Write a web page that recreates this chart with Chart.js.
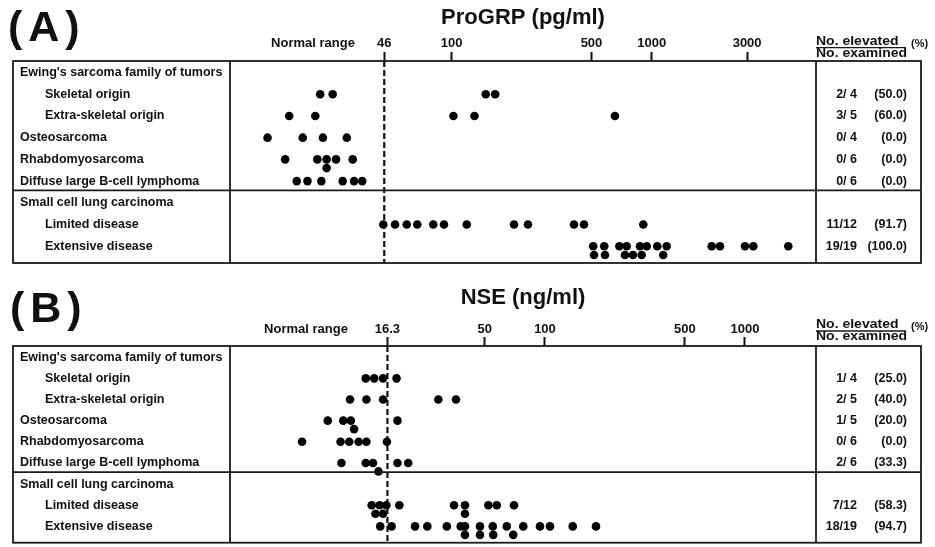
<!DOCTYPE html>
<html>
<head>
<meta charset="utf-8">
<script src="https://cdn.jsdelivr.net/npm/chart.js@4.4.1/dist/chart.umd.min.js"></script>
<style>
html,body{margin:0;padding:0;background:#fff;}
#wrap{position:relative;width:935px;height:547px;overflow:hidden;background:#fff;}
.panel{position:absolute;left:0;width:935px;}
.panel canvas{display:block;}
.plabel{position:absolute;font-family:Arial,"Liberation Sans",Helvetica,sans-serif;font-weight:bold;font-size:43px;line-height:1;letter-spacing:6px;color:#111;}
</style>
</head>
<body>
<div id="wrap">
  <div class="panel" style="top:0;height:270px"><canvas id="cA" width="935" height="270"></canvas></div>
  <div class="panel" style="top:280px;height:267px"><canvas id="cB" width="935" height="267"></canvas></div>
  <div class="plabel" style="left:8px;top:5px">(A)</div>
  <div class="plabel" style="left:10px;top:286px">(B)</div>
</div>
<script>
const FONT = 'Arial, "Liberation Sans", Helvetica, sans-serif';

// ---- Row categories ----
const rowLabels = [
  "Ewing's sarcoma family of tumors",
  "Skeletal origin",
  "Extra-skeletal origin",
  "Osteosarcoma",
  "Rhabdomyosarcoma",
  "Diffuse large B-cell lymphoma",
  "Small cell lung carcinoma",
  "Limited disease",
  "Extensive disease"
];
const rowIsSubgroup = [false, true, true, false, false, false, false, true, true];
const dataRows = [1, 2, 3, 4, 5, 7, 8];

// ---- (A) ProGRP (pg/ml) ----
const progrpTicks = [46, 100, 500, 1000, 3000];
const progrpCutoff = 46;
const progrpSkeletal = [22.0, 25.4, 148, 165];
const progrpExtraSkeletal = [15.4, 20.8, 102, 130, 655];
const progrpOsteosarcoma = [12.0, 18.0, 22.7, 29.9];
const progrpRhabdomyosarcoma = [14.7, 21.3, 23.7, 23.7, 26.4, 32.0];
const progrpDLBCL = [16.8, 19.0, 22.3, 28.5, 32.5, 35.7];
const progrpLimited = [45.5, 52.1, 59.6, 67.3, 80.9, 91.5, 118.9, 204.9, 240.7, 408.8, 458.7, 907.8];
const progrpExtensive = [510, 515, 579, 584, 689, 735, 750, 806, 874, 891, 944, 1066, 1142, 1188, 1995, 2195, 2927, 3221, 4819];
const progrpElevated = [2, 3, 0, 0, 0, 11, 19];
const progrpExamined = [4, 5, 4, 6, 6, 12, 19];
const progrpPercent = ["50.0", "60.0", "0.0", "0.0", "0.0", "91.7", "100.0"];

// ---- (B) NSE (ng/ml) ----
const nseTicks = [16.3, 50, 100, 500, 1000];
const nseCutoff = 16.3;
const nseSkeletal = [12.7, 14.0, 15.5, 18.1];
const nseExtraSkeletal = [10.6, 12.8, 15.5, 29.3, 35.9];
const nseOsteosarcoma = [8.2, 9.8, 10.7, 11.1, 18.3];
const nseRhabdomyosarcoma = [6.1, 9.5, 10.5, 11.7, 12.8, 16.2];
const nseDLBCL = [9.6, 12.7, 13.8, 14.7, 18.3, 20.7];
const nseLimited = [13.6, 14.2, 14.9, 15.5, 16.1, 18.7, 35.1, 39.8, 39.8, 52.1, 57.4, 70.0];
const nseExtensive = [15.0, 17.1, 22.4, 25.8, 32.3, 37.9, 39.8, 39.8, 47.3, 47.3, 54.8, 55.1, 64.4, 69.4, 77.9, 94.4, 105.9, 137.6, 179.9];
const nseElevated = [1, 2, 1, 0, 2, 7, 18];
const nseExamined = [4, 5, 5, 6, 6, 12, 19];
const nsePercent = ["25.0", "40.0", "20.0", "0.0", "33.3", "58.3", "94.7"];

// ---- layout constants ----
const Y_MIN = -0.53, Y_MAX = 8.77, SECTION_BREAK = 5.43;
const BOX_LEFT = 13, BOX_RIGHT = 921, PLOT_LEFT = 230, PLOT_RIGHT = 816;

// simple two-row beeswarm: overlapping dots are pushed to a second line
function swarm(values, row) {
  const levels = [[], []];
  const pts = [];
  values.slice().sort((a, b) => a - b).forEach(v => {
    const lv = Math.log10(v);
    let chosen = -1, bestD = -1, bestL = 0;
    for (let L = 0; L < levels.length; L++) {
      const d = levels[L].length ? Math.min(...levels[L].map(q => Math.abs(q - lv))) : Infinity;
      if (d >= 0.0325) { chosen = L; break; }
      if (d > bestD) { bestD = d; bestL = L; }
    }
    if (chosen < 0) chosen = bestL;
    levels[chosen].push(lv);
    pts.push({ x: v, y: row + chosen * 0.4 });
  });
  return pts;
}

function makeFrame(cfg) {
  return {
    id: 'frame',
    afterDraw(chart) {
      const { ctx, chartArea: ca } = chart;
      const y = chart.scales.y;
      ctx.save();
      ctx.strokeStyle = '#1a1a1a';
      ctx.lineWidth = 1.8;
      ctx.strokeRect(BOX_LEFT, ca.top, BOX_RIGHT - BOX_LEFT, ca.bottom - ca.top);
      const ln = (x1, y1, x2, y2) => { ctx.beginPath(); ctx.moveTo(x1, y1); ctx.lineTo(x2, y2); ctx.stroke(); };
      ln(ca.left, ca.top, ca.left, ca.bottom);
      ln(ca.right, ca.top, ca.right, ca.bottom);
      const yb = y.getPixelForValue(SECTION_BREAK);
      ln(BOX_LEFT, yb, BOX_RIGHT, yb);

      ctx.fillStyle = '#111';
      ctx.textBaseline = 'middle';
      ctx.textAlign = 'left';
      ctx.font = 'bold 12.5px ' + FONT;
      rowLabels.forEach((t, i) => ctx.fillText(t, rowIsSubgroup[i] ? 45 : 20, y.getPixelForValue(i)));

      ctx.font = 'bold 12.5px ' + FONT;
      ctx.textAlign = 'right';
      dataRows.forEach((r, k) => {
        const yy = y.getPixelForValue(r);
        const ex = cfg.examined[k];
        ctx.fillText(cfg.elevated[k] + '/' + (ex < 10 ? ' ' + ex : ex), 857, yy);
        ctx.fillText('(' + cfg.percent[k] + ')', 907, yy);
      });

      // header of right column
      ctx.textAlign = 'left';
      ctx.font = 'bold 12.5px ' + FONT;
      const hy = cfg.headerY;
      ctx.save(); ctx.translate(816, hy); ctx.scale(1.12, 1); ctx.fillText('No. elevated', 0, 0); ctx.restore();
      ctx.save(); ctx.translate(816, hy + 11.5); ctx.scale(1.12, 1); ctx.fillText('No. examined', 0, 0); ctx.restore();
      ctx.lineWidth = 1.3;
      ln(816, hy + 6, 906, hy + 6);
      ctx.font = 'bold 11px ' + FONT;
      ctx.fillText('(%)', 911, hy + 2);

      // "Normal range"
      ctx.textAlign = 'center';
      ctx.font = 'bold 13px ' + FONT;
      ctx.fillText('Normal range', cfg.normalX, ca.top - 9 - cfg.tickPad - 7.8);
      ctx.restore();
    }
  };
}

function makePanel(cfg) {
  const points = [];
  cfg.rows.forEach((vals, i) => { if (vals) points.push(...swarm(vals, i)); });
  new Chart(document.getElementById(cfg.id), {
    type: 'scatter',
    data: {
      datasets: [
        {
          type: 'line',
          data: [{ x: cfg.cutoff, y: Y_MIN }, { x: cfg.cutoff, y: Y_MAX }],
          borderColor: '#111', borderWidth: 2.2, borderDash: [6, 3],
          pointRadius: 0, fill: false, order: 2
        },
        {
          type: 'scatter',
          data: points,
          backgroundColor: '#000', borderWidth: 0,
          pointRadius: 4.3, pointHoverRadius: 4.3, order: 1
        }
      ]
    },
    options: {
      responsive: false, animation: false, devicePixelRatio: 1, events: [],
      layout: { padding: { left: PLOT_LEFT, right: 935 - PLOT_RIGHT, top: 0, bottom: cfg.height - cfg.bottom } },
      plugins: { legend: { display: false }, tooltip: { enabled: false }, title: { display: false } },
      scales: {
        x: {
          type: 'logarithmic', position: 'top', min: cfg.min, max: cfg.max, bounds: 'data',
          afterBuildTicks: (axis) => { axis.ticks = cfg.ticks.map(v => ({ value: v })); },
          afterFit: (axis) => { axis.height = cfg.top; },
          ticks: {
            autoSkip: false, maxRotation: 0, padding: cfg.tickPad, color: '#111',
            font: { family: FONT, size: 13, weight: 'bold' },
            callback: (v) => String(v)
          },
          grid: { display: true, drawOnChartArea: false, drawTicks: true, tickLength: 9, tickWidth: 2, tickColor: '#111' },
          border: { display: false },
          title: {
            display: true, text: cfg.title, color: '#111',
            font: { family: FONT, size: 22, weight: 'bold' },
            padding: { top: 5, bottom: 0 }
          }
        },
        y: { type: 'linear', display: false, reverse: true, min: Y_MIN, max: Y_MAX }
      }
    },
    plugins: [makeFrame(cfg)]
  });
}

makePanel({
  id: 'cA', height: 270, top: 61, bottom: 263, min: 7.79, max: 6630, tickPad: 1,
  ticks: progrpTicks, cutoff: progrpCutoff, title: 'ProGRP (pg/ml)',
  normalX: 313, headerY: 41.7,
  rows: [null, progrpSkeletal, progrpExtraSkeletal, progrpOsteosarcoma, progrpRhabdomyosarcoma, progrpDLBCL, null, progrpLimited, progrpExtensive],
  elevated: progrpElevated, examined: progrpExamined, percent: progrpPercent
});

makePanel({
  id: 'cB', height: 267, top: 66, bottom: 265, min: 2.661, max: 2265, tickPad: 0,
  ticks: nseTicks, cutoff: nseCutoff, title: 'NSE (ng/ml)',
  normalX: 306, headerY: 45,
  rows: [null, nseSkeletal, nseExtraSkeletal, nseOsteosarcoma, nseRhabdomyosarcoma, nseDLBCL, null, nseLimited, nseExtensive],
  elevated: nseElevated, examined: nseExamined, percent: nsePercent
});
</script>
</body>
</html>
